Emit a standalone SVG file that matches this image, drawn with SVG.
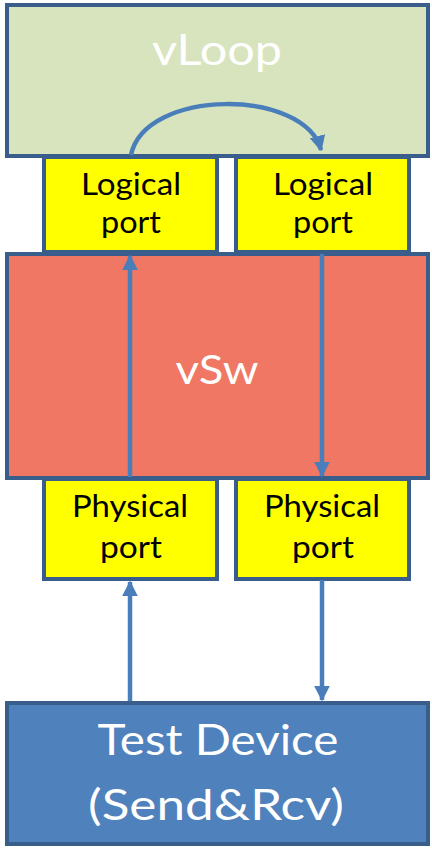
<svg xmlns="http://www.w3.org/2000/svg" width="432" height="848" viewBox="0 0 432 848">
<style>
.box{stroke:#3a5e8c;stroke-width:4}
.t{font-family:Lato,"Open Sans","Liberation Sans",sans-serif;text-anchor:middle}
.w{fill:#ffffff}
.k{fill:#000000}
.c{fill:none;stroke:#4a7ebb;stroke-width:4.5}
</style>
<defs>
<marker id="ah" viewBox="0 0 10 10" refX="9" refY="5" markerWidth="3.5" markerHeight="3.5" orient="auto" markerUnits="strokeWidth">
<path d="M0,0 L10,5 L0,10 z" fill="#4a7ebb"/>
</marker>
</defs>
<g id="vloop">
<rect class="box" x="7" y="5" width="421" height="151" fill="#d7e4bd"/>
<text class="t w" x="217" y="65" font-size="42" textLength="130" lengthAdjust="spacingAndGlyphs">vLoop</text>
</g>
<g id="logical1">
<rect class="box" x="44" y="157" width="173" height="95" fill="#ffff00"/>
<text class="t k" x="131" y="195" font-size="30" textLength="100" lengthAdjust="spacingAndGlyphs">Logical</text>
<text class="t k" x="131" y="233" font-size="30" textLength="60" lengthAdjust="spacingAndGlyphs">port</text>
</g>
<g id="logical2">
<rect class="box" x="236" y="157" width="173" height="95" fill="#ffff00"/>
<text class="t k" x="323" y="195" font-size="30" textLength="100" lengthAdjust="spacingAndGlyphs">Logical</text>
<text class="t k" x="323" y="233" font-size="30" textLength="60" lengthAdjust="spacingAndGlyphs">port</text>
</g>
<g id="vsw">
<rect class="box" x="7" y="254" width="421" height="224" fill="#f07763"/>
<text class="t w" x="217" y="384" font-size="40" textLength="83" lengthAdjust="spacingAndGlyphs">vSw</text>
</g>
<g id="physical1">
<rect class="box" x="44" y="479" width="173" height="100" fill="#ffff00"/>
<text class="t k" x="130" y="517" font-size="30" textLength="116" lengthAdjust="spacingAndGlyphs">Physical</text>
<text class="t k" x="131" y="558" font-size="30" textLength="62" lengthAdjust="spacingAndGlyphs">port</text>
</g>
<g id="physical2">
<rect class="box" x="236" y="479" width="173" height="100" fill="#ffff00"/>
<text class="t k" x="322" y="517" font-size="30" textLength="116" lengthAdjust="spacingAndGlyphs">Physical</text>
<text class="t k" x="323" y="558" font-size="30" textLength="62" lengthAdjust="spacingAndGlyphs">port</text>
</g>
<g id="testdevice">
<rect class="box" x="7" y="703" width="421" height="141" fill="#4f81bd"/>
<text class="t w" x="218" y="755" font-size="42" textLength="241" lengthAdjust="spacingAndGlyphs">Test Device</text>
<text class="t w" x="216" y="820" font-size="42" textLength="256" lengthAdjust="spacingAndGlyphs">(Send&amp;Rcv)</text>
</g>
<g id="connectors">
<path class="c" d="M131,155 C145,88 305,88 321,150" marker-end="url(#ah)"/>
<line class="c" x1="130" y1="477" x2="130" y2="256" marker-end="url(#ah)"/>
<line class="c" x1="322" y1="254" x2="322" y2="476" marker-end="url(#ah)"/>
<line class="c" x1="130" y1="701" x2="130" y2="582" marker-end="url(#ah)"/>
<line class="c" x1="322" y1="580" x2="322" y2="700" marker-end="url(#ah)"/>
</g>
</svg>
